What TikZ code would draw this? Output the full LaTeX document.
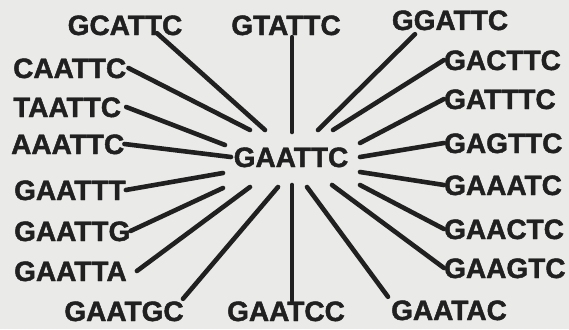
\documentclass[tikz,border=0pt]{standalone}
\usepackage{fontspec}
\setmainfont{Liberation Sans}[BoldFeatures={FakeBold=1.6}]
\definecolor{paper}{RGB}{234,234,232}
\definecolor{ink}{RGB}{32,32,32}
\begin{document}
\begin{tikzpicture}[x=1pt,y=-1pt,
  seq/.style={inner sep=0pt, text height=20pt, text depth=0pt, text=ink,
    font=\fontsize{28}{28}\bfseries\selectfont},
  spoke/.style={draw=ink, line width=4.6pt, line cap=round}]
\useasboundingbox[fill=paper] (0,0) rectangle (569,329);

% inner ends of the spokes round the central sequence
\coordinate (i1) at (265,130);
\coordinate (i2) at (250,130);
\coordinate (i3) at (225,145);
\coordinate (i4) at (231,157);
\coordinate (i5) at (223,173);
\coordinate (i6) at (223,188);
\coordinate (i7) at (250,187);
\coordinate (i8) at (278,187);
\coordinate (i9) at (292,132);
\coordinate (i10) at (292,185);
\coordinate (i11) at (318,130);
\coordinate (i12) at (333,130);
\coordinate (i13) at (360,143);
\coordinate (i14) at (360,157);
\coordinate (i15) at (360,172);
\coordinate (i16) at (360,185);
\coordinate (i17) at (332,185);
\coordinate (i18) at (307,187);

% sequences
\node[seq] (gaattc) at (291,157) {GAATTC};
\node[seq] (gcattc) at (125,25) {GCATTC};
\node[seq] (gtattc) at (286,25) {GTATTC};
\node[seq] (ggattc) at (450,20) {GGATTC};
\node[seq, anchor=west] (caattc) at (13,68) {CAATTC};
\node[seq, anchor=west] (taattc) at (13,107) {TAATTC};
\node[seq, anchor=west] (aaattc) at (11,144) {AAATTC};
\node[seq, anchor=west] (gaattt) at (14,190) {GAATTT};
\node[seq, anchor=west] (gaattg) at (14,231) {GAATTG};
\node[seq, anchor=west] (gaatta) at (14,271) {GAATTA};
\node[seq] (gaatgc) at (124,311) {GAATGC};
\node[seq] (gaatcc) at (286,311) {GAATCC};
\node[seq] (gaatac) at (449,310) {GAATAC};
\node[seq, anchor=west] (gacttc) at (444,60) {GACTTC};
\node[seq, anchor=west] (gatttc) at (444,99) {GATTTC};
\node[seq, anchor=west] (gagttc) at (444,143) {GAGTTC};
\node[seq, anchor=west] (gaaatc) at (444,185) {GAAATC};
\node[seq, anchor=west] (gaactc) at (444,229) {GAACTC};
\node[seq, anchor=west] (gaagtc) at (444,268) {GAAGTC};

% spokes
\draw[spoke] ([xshift=32pt,yshift=2pt]gcattc.south) -- (i1);
\draw[spoke] ([xshift=2pt]caattc.east) -- (i2);
\draw[spoke] ([xshift=5pt]taattc.east) -- (i3);
\draw[spoke] (aaattc.east) -- (i4);
\draw[spoke] (gaattt.east) -- (i5);
\draw[spoke] (gaattg.east) -- (i6);
\draw[spoke] ([xshift=10pt]gaatta.east) -- (i7);
\draw[spoke] ([xshift=59pt,yshift=2pt]gaatgc.north) -- (i8);
\draw[spoke] ([xshift=6pt,yshift=-2pt]gtattc.south) -- (i9);
\draw[spoke] ([xshift=6pt]gaatcc.north) -- (i10);
\draw[spoke] ([xshift=-35pt,yshift=-4pt]ggattc.south) -- (i11);
\draw[spoke] (gacttc.west) -- (i12);
\draw[spoke] (gatttc.west) -- (i13);
\draw[spoke] (gagttc.west) -- (i14);
\draw[spoke] (gaaatc.west) -- (i15);
\draw[spoke] (gaactc.west) -- (i16);
\draw[spoke] (gaagtc.west) -- (i17);
\draw[spoke] ([xshift=-61pt,yshift=3pt]gaatac.north) -- (i18);
\end{tikzpicture}
\end{document}
